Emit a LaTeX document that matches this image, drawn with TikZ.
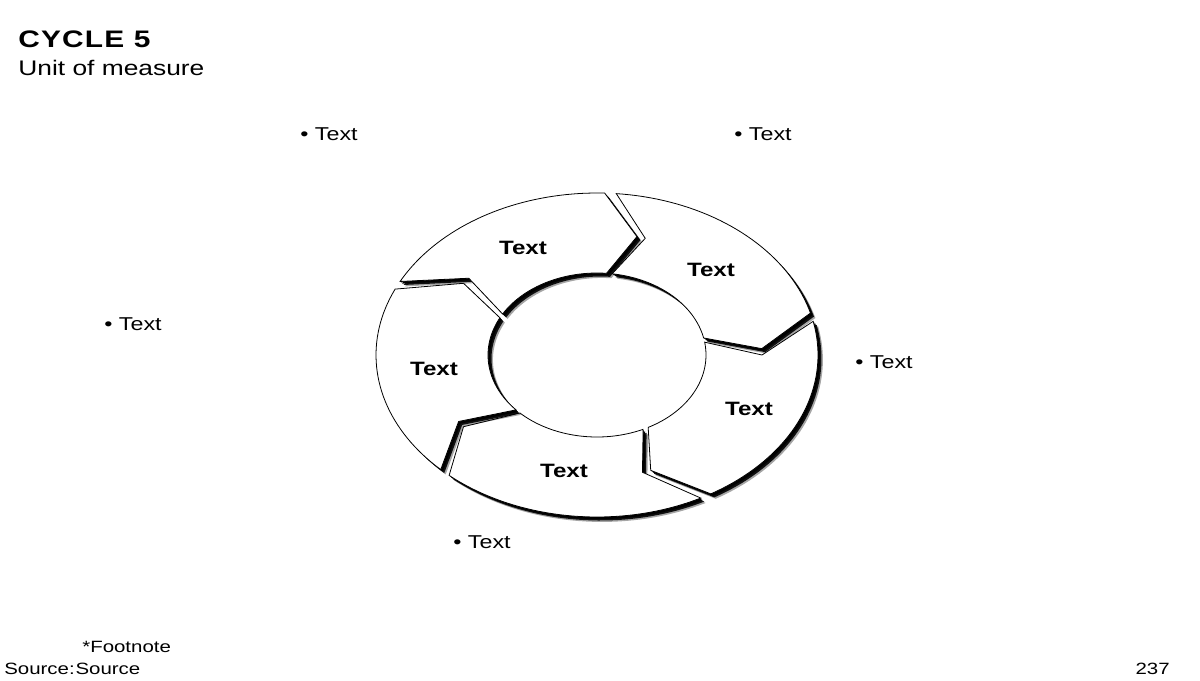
\documentclass[tikz,border=0pt]{standalone}
\usepackage{fontspec}
\setmainfont{Liberation Sans}[FakeStretch=1.25]
\usetikzlibrary{shadows}
\newcommand{\ringseg}[2]{%
  \pgfmathsetmacro{\headin}{#2-3}\pgfmathsetmacro{\tailin}{#1-3}%
  \pgfmathsetmacro{\headtip}{#2-12}\pgfmathsetmacro{\tailtip}{#1-12}%
  \draw[ringpiece] plot[domain=#1:#2,samples=40] ({597+221*cos(\x)},{355-162*sin(\x)})
    -- ({597+165*cos(\headtip)},{355-122*sin(\headtip)})
    -- plot[domain=\headin:\tailin,samples=40] ({597+109*cos(\x)},{355-82*sin(\x)})
    -- ({597+165*cos(\tailtip)},{355-122*sin(\tailtip)}) -- cycle;}

\begin{document}
\begin{tikzpicture}[x=0.02cm,y=-0.02cm,
  ringpiece/.style={draw=black,line width=0.45pt,fill=white,
    drop shadow={shadow xshift=2.8pt,shadow yshift=-2.8pt,fill=black,opacity=.35},
    drop shadow={shadow xshift=2pt,shadow yshift=-2pt,fill=black,opacity=.9},
    drop shadow={shadow xshift=1.2pt,shadow yshift=-1.2pt,fill=black,opacity=1},
    drop shadow={shadow xshift=0.5pt,shadow yshift=-0.5pt,fill=black,opacity=1}},
  title/.style={anchor=base west,inner sep=0pt,font=\fontsize{13.6}{16}\selectfont\bfseries\addfontfeatures{LetterSpace=5}},
  unit/.style={anchor=base west,inner sep=0pt,font=\fontsize{12}{14}\selectfont},
  item/.style={anchor=west,inner sep=0pt,font=\fontsize{10.6}{12}\selectfont},
  seglabel/.style={inner sep=0pt,font=\fontsize{11}{13}\selectfont\bfseries},
  note/.style={inner sep=0pt,font=\fontsize{9.3}{11}\selectfont}]
\useasboundingbox (0,0) rectangle (1200,680);

\ringseg{153}{88}
\ringseg{85}{15}
\ringseg{12}{-59}
\ringseg{-62}{-132}
\ringseg{-135}{-204}

\node[seglabel] (S1) at (523,248) {Text};
\node[seglabel] (S2) at (711,270) {Text};
\node[seglabel] (S3) at (749,409) {Text};
\node[seglabel] (S4) at (564,471) {Text};
\node[seglabel] (S5) at (434,369) {Text};

\node[item] (B1) at (300,134) {• Text};
\node[item] (B2) at (734,134) {• Text};
\node[item] (B3) at (855,362) {• Text};
\node[item] (B4) at (453,542) {• Text};
\node[item] (B5) at (104,324) {• Text};

\node[title] (T) at (18,47) {CYCLE 5};
\node[unit] (U) at (18,75) {Unit of measure};
\node[note,anchor=west] (F) at (82,647) {*Footnote};
\node[note,anchor=west] (Src) at (4,669) {Source:\hspace{0.05em}Source};
\node[note,anchor=east] (P) at (1170,669) {237};
\end{tikzpicture}
\end{document}
